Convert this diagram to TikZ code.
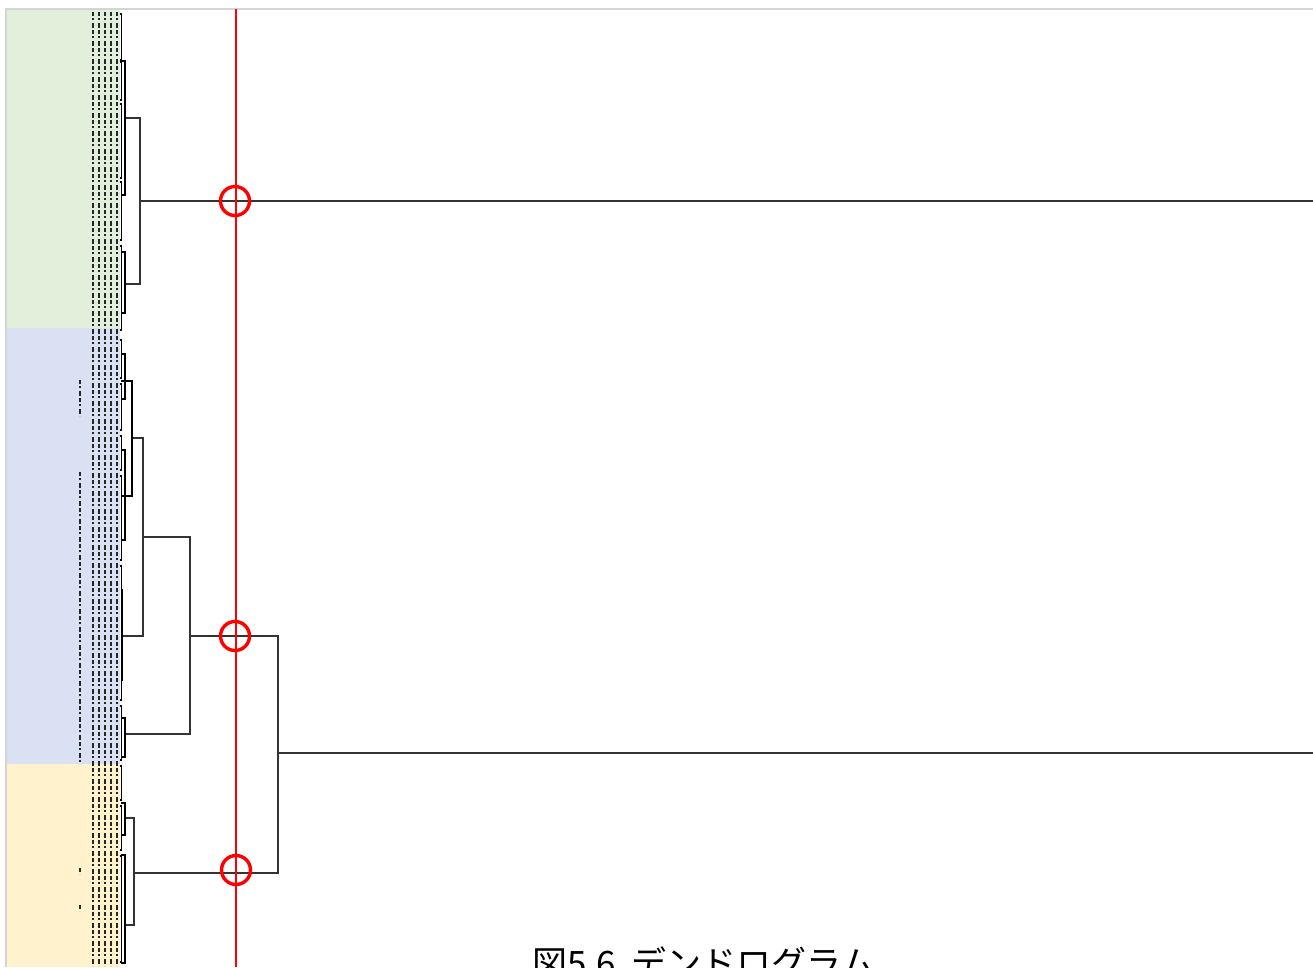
\documentclass[tikz,border=0pt]{standalone}
\usepackage{fontspec}
\newfontfamily\cjk{Noto Sans CJK JP}
\definecolor{bandgreen}{HTML}{E2EFDA}
\definecolor{bandblue}{HTML}{D9E1F2}
\definecolor{bandyellow}{HTML}{FFF2CC}
\definecolor{framegrey}{HTML}{D4D4D4}
\begin{document}
\begin{tikzpicture}[x=1pt,y=-1pt]
    \tikzstyle{link}=[draw,black!80,line width=1.4pt]
    \tikzstyle{twig}=[draw,black,line width=1.2pt]
    \tikzstyle{cutline}=[draw,red,line width=1.3pt]
    \tikzstyle{hit}=[draw=red,circle,line width=3.4pt,minimum size=29pt,inner sep=0pt]
    \tikzstyle{leaftext}=[draw,black!85,line width=1.4pt,dash pattern=on 4pt off 2pt on 2pt off 3pt on 5pt off 2pt]
    \tikzstyle{caption}=[anchor=base west,inner sep=0pt,font=\cjk\fontsize{35}{40}\selectfont]

    \useasboundingbox (0,0) rectangle (1313,967);
    \clip (0,0) rectangle (1313,967);

    % colour bands
    \fill[bandgreen] (6,9) rectangle (120,328);
    \fill[bandblue] (6,328) rectangle (120,764);
    \fill[bandyellow] (6,764) rectangle (120,967);
    \draw[framegrey,line width=2pt] (6,967) -- (6,9) -- (1313,9);

    % leaf labels (too small to read)
    \foreach \xc in {93,99,105,111,117}
        \path[leaftext] (\xc,12) -- (\xc,966);
    \foreach \ya/\yb in {380/416,472/762,868/874,905/911}
        \path[leaftext] (80,\ya) -- (80,\yb);

    % cluster joins
    \coordinate (G) at (140,201);
    \coordinate (GA) at (125,118);
    \coordinate (GB) at (125,284);
    \coordinate (BA) at (132,438);
    \coordinate (BB) at (122,636);
    \coordinate (B1) at (143,537);
    \coordinate (BC) at (125,734);
    \coordinate (B2) at (190,636);
    \coordinate (YA) at (125,818);
    \coordinate (YB) at (125,925);
    \coordinate (Y) at (134,873);
    \coordinate (R) at (278,753);
    \coordinate (gend) at (1313,201);
    \coordinate (rend) at (1313,753);

    \path[link] (GA) -| (G) |- (GB);
    \path[link] (G) -- (gend);
    \path[link] (BA) -| (B1) |- (BB);
    \path[link] (B1) -| (B2) |- (BC);
    \path[link] (YA) -| (Y) |- (YB);
    \path[link] (B2) -| (R) |- (Y);
    \path[link] (R) -- (rend);

    % small brackets near the leaves
    \foreach \xb/\ya/\yb in {125/61/195,125/252/313,132/381/496,125/354/399,125/450/540,
                             122/590/680,125/718/757,125/803/835,125/855/963}
        \path[twig] (121,\ya) -- (\xb,\ya) -- (\xb,\yb) -- (121,\yb);
    \foreach \ya/\yb in {14/60,62/100,104/178,182/240,246/330,340/378,384/430,
                         436/470,476/560,566/700,706/760,766/800,806/850,856/962}
        \path[twig] (119.5,\ya) -- (121.5,\ya) -- (121.5,\yb) -- (119.5,\yb);

    % cut line and where it crosses the tree
    \coordinate (cuttop) at (236,9);
    \coordinate (cutbot) at (236,967);
    \path[cutline] (cuttop) -- (cutbot);
    \node[hit] (h1) at (235,201) {};
    \node[hit] (h2) at (235,636) {};
    \node[hit] (h3) at (236,870) {};

    \node[caption] (cap) at (532,976) {図5.6\hspace{0.45em}デンドログラム};
\end{tikzpicture}
\end{document}
